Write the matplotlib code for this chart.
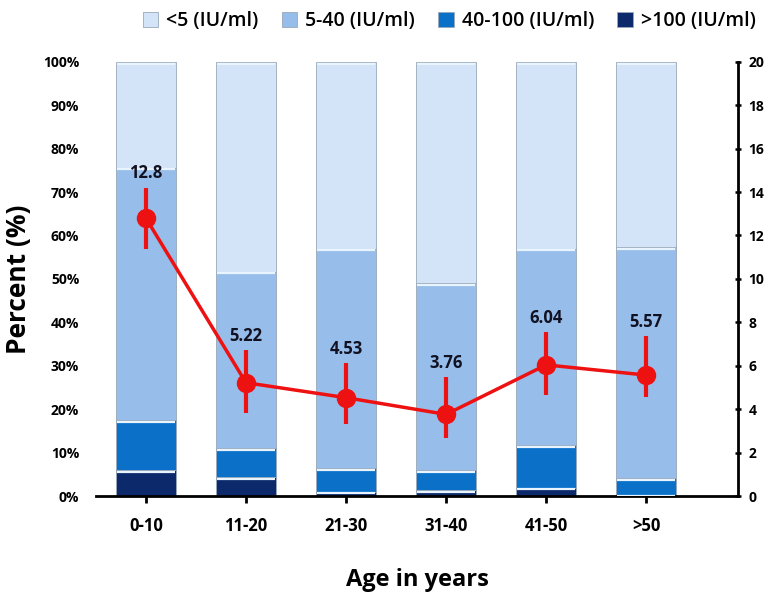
import numpy as np
import matplotlib.pyplot as plt
from matplotlib.ticker import PercentFormatter

# age groups and antibody titre distribution (% of subjects)
groups = ['0-10', '11-20', '21-30', '31-40', '41-50', '>50']
gt100 = [6.0, 4.4, 1.0, 1.4, 1.9, 0.3]
r40_100 = [11.5, 6.6, 5.4, 4.6, 9.8, 3.8]
r5_40 = [58.1, 40.7, 50.6, 43.0, 45.3, 53.3]
lt5 = [24.4, 48.3, 43.0, 51.0, 43.0, 42.6]

# mean titre per group with error bars
mean_titre = [12.8, 5.22, 4.53, 3.76, 6.04, 5.57]
err_low = [1.4, 1.4, 1.2, 1.1, 1.4, 1.0]
err_high = [1.4, 1.5, 1.6, 1.7, 1.5, 1.8]

colors = ['#0c2a6b', '#0a70c8', '#97bdea', '#d3e4f8']
names = ['>100 (IU/ml)', '40-100 (IU/ml)', '5-40 (IU/ml)', '<5 (IU/ml)']

plt.rcParams['font.family'] = ['Open Sans', 'DejaVu Sans']

fig = plt.figure(figsize=(7.73, 6.06), dpi=100)
ax = fig.add_axes([0.124, 0.1815, 0.831, 0.7165])
x = np.arange(len(groups))

bottom = np.zeros(len(groups))
handles = []
for vals, c, n in zip([gt100, r40_100, r5_40, lt5], colors, names):
    b = ax.bar(x, vals, 0.6, bottom=bottom, color=c, edgecolor='#9aa8b8',
               linewidth=0.6, label=n, zorder=2)
    # light rim along the top of each segment
    ax.hlines(bottom + np.array(vals) - 0.4, x - 0.29, x + 0.29,
              color='#e8f4ff', lw=1.6, zorder=3)
    handles.append(b)
    bottom += np.array(vals)

ax.set_xlim(-0.5, 5.92)
ax.set_ylim(0, 100)
ax.yaxis.set_major_formatter(PercentFormatter(decimals=0))
ax.set_yticks(np.arange(0, 101, 10))
ax.set_xticks(x)
ax.set_xticklabels(groups, fontsize=12, fontweight='bold')
for lab in ax.get_yticklabels():
    lab.set_fontsize(10)
    lab.set_fontweight('bold')
ax.tick_params(axis='y', length=0, pad=12)
ax.tick_params(axis='x', length=5, width=2, pad=10)
ax.spines['left'].set_visible(False)
ax.spines['top'].set_visible(False)
ax.spines['right'].set_visible(False)
ax.spines['bottom'].set_linewidth(2)
ax.set_ylabel('Percent (%)', fontsize=19, fontweight='bold', labelpad=8)
ax.set_xlabel('Age in years', fontsize=17, fontweight='bold', labelpad=24)

ax2 = ax.twinx()
ax2.set_ylim(0, 20)
ax2.set_yticks(np.arange(0, 21, 2))
ax2.spines['right'].set_linewidth(2)
for s in ['left', 'top', 'bottom']:
    ax2.spines[s].set_visible(False)
ax2.tick_params(axis='y', length=5, width=1.8, direction='inout', pad=5)
for lab in ax2.get_yticklabels():
    lab.set_fontsize(10)
    lab.set_fontweight('bold')

ax2.errorbar(x, mean_titre, yerr=[err_low, err_high], color='#ee1111',
             lw=2.5, elinewidth=3, marker='o', markersize=13, capsize=0, zorder=5)
for xi, m, eh in zip(x, mean_titre, err_high):
    ax2.text(xi, m + eh + 0.25, f'{m:g}', ha='center', va='bottom',
             fontsize=12, fontweight='bold', color='#111122')

ax.legend(handles[::-1], names[::-1], loc='lower center', bbox_to_anchor=(0.55, 1.03),
          ncol=4, frameon=False, handlelength=0.8, handleheight=0.8,
          handletextpad=0.4, columnspacing=1.2,
          prop={'size': 14, 'weight': 'semibold'})

fig.savefig('out.png', dpi=100)
